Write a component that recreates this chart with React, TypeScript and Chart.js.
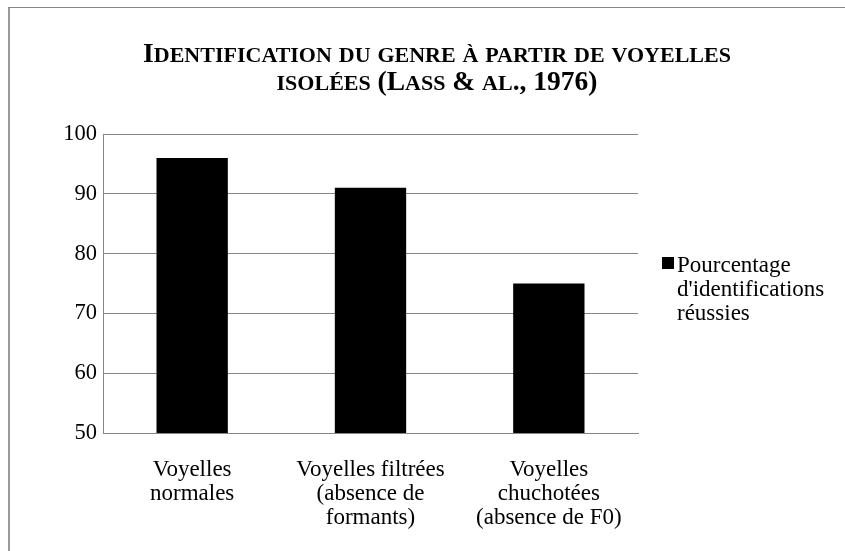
import React, { useEffect, useRef } from "react";
import { Chart, registerables } from "chart.js";

Chart.register(...registerables);

const categories: string[][] = [
  ["Voyelles", "normales"],
  ["Voyelles filtrées", "(absence de", "formants)"],
  ["Voyelles", "chuchotées", "(absence de F0)"],
];
const seriesName = "Pourcentage d'identifications réussies";
const legendLines = ["Pourcentage", "d'identifications", "réussies"];
const values = [96, 91, 75];
const titleLines = ["Identification du genre à partir de voyelles", "isolées (Lass & al., 1976)"];
const yMin = 50;
const yMax = 100;
const yStep = 10;

const FONT = '"Liberation Serif", serif';
const GRID = "#868686";

function drawSmallCaps(ctx: CanvasRenderingContext2D, text: string, cx: number, y: number, big: number, small: number) {
  const runs: { t: string; size: number }[] = [];
  for (const ch of text) {
    const lower = ch !== ch.toUpperCase();
    const size = lower ? small : big;
    const t = lower ? ch.toUpperCase() : ch;
    const last = runs[runs.length - 1];
    if (last && last.size === size) last.t += t;
    else runs.push({ t, size });
  }
  let total = 0;
  for (const r of runs) {
    ctx.font = `bold ${r.size}px ${FONT}`;
    total += ctx.measureText(r.t).width;
  }
  let x = cx - total / 2;
  ctx.textAlign = "left";
  ctx.textBaseline = "alphabetic";
  for (const r of runs) {
    ctx.font = `bold ${r.size}px ${FONT}`;
    ctx.fillText(r.t, x, y);
    x += ctx.measureText(r.t).width;
  }
}

const decorPlugin = {
  id: "decor",
  afterDraw(chart: any) {
    const ctx: CanvasRenderingContext2D = chart.ctx;
    ctx.save();
    // frame
    ctx.fillStyle = "#9a9a9a";
    ctx.fillRect(8, 7, 2, 551 - 7);
    ctx.fillStyle = "#888888";
    ctx.fillRect(8, 7, 845 - 8, 1);
    // title
    ctx.fillStyle = "#000";
    drawSmallCaps(ctx, titleLines[0], 437, 62, 27.5, 22);
    drawSmallCaps(ctx, titleLines[1], 437, 90, 27.5, 22);
    // legend
    const lx = chart.chartArea.right + 24;
    ctx.fillStyle = "#000";
    ctx.fillRect(lx, 257, 12, 12);
    ctx.font = `23px ${FONT}`;
    ctx.textAlign = "left";
    ctx.textBaseline = "alphabetic";
    legendLines.forEach((l, i) => ctx.fillText(l, lx + 15, 272 + i * 24));
    ctx.restore();
  },
};

export default function App() {
  const ref = useRef<HTMLCanvasElement>(null);
  useEffect(() => {
    if (!ref.current) return;
    const chart = new Chart(ref.current, {
      type: "bar",
      data: {
        labels: categories,
        datasets: [
          {
            label: seriesName,
            data: values,
            backgroundColor: "#000000",
            borderWidth: 0,
            barPercentage: 0.4,
            categoryPercentage: 1,
          },
        ],
      },
      options: {
        animation: false,
        responsive: false,
        devicePixelRatio: 1,
        layout: { padding: { top: 134, right: 207, left: 0, bottom: 0 } },
        plugins: { legend: { display: false }, title: { display: false }, tooltip: { enabled: false } },
        scales: {
          y: {
            min: yMin,
            max: yMax,
            ticks: { stepSize: yStep, color: "#000", font: { family: FONT, size: 22.5 }, padding: 6 },
            grid: { color: GRID, drawTicks: false, lineWidth: 1 },
            border: { display: true, color: GRID, width: 1 },
            afterFit: (s: any) => { s.width = 103; },
          },
          x: {
            ticks: { color: "#000", font: { family: FONT, size: 23, lineHeight: "24px" }, padding: 25, maxRotation: 0, autoSkip: false },
            grid: { display: false, drawTicks: false },
            border: { display: true, color: GRID, width: 1 },
            afterFit: (s: any) => { s.height = 118; },
          },
        },
      },
      plugins: [decorPlugin],
    });
    return () => chart.destroy();
  }, []);
  return (
    <div style={{ position: "fixed", left: 0, top: 0, width: 845, height: 551, background: "#fff" }}>
      <canvas ref={ref} width={845} height={551} style={{ width: 845, height: 551, display: "block" }} />
    </div>
  );
}
